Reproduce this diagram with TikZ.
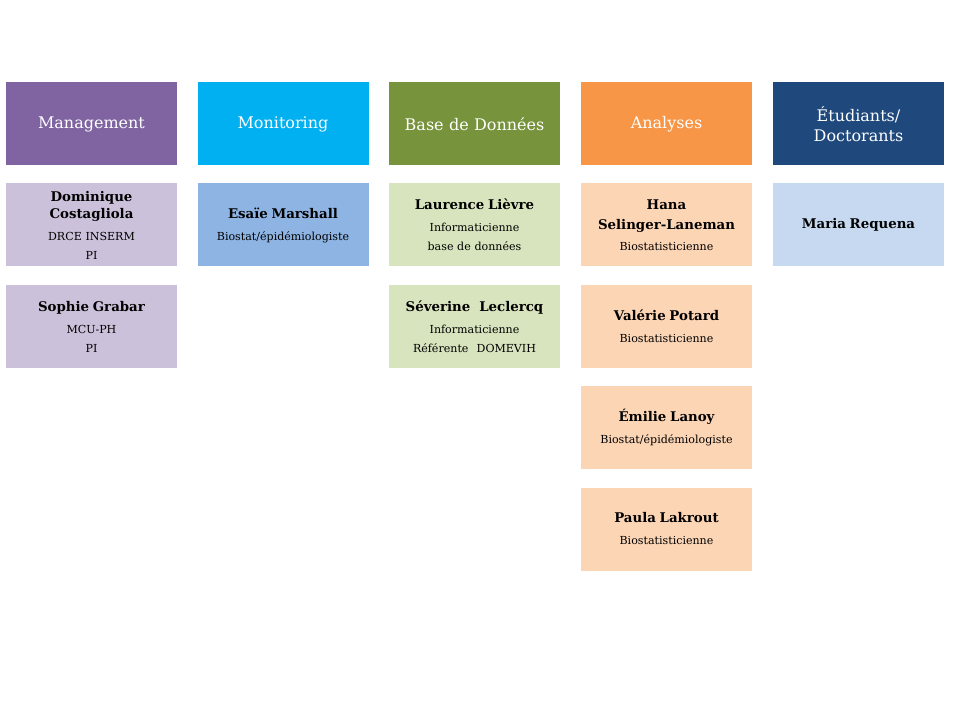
\documentclass[tikz,border=0pt]{standalone}
\usepackage{fontspec}
\setmainfont{DejaVu Serif}
\definecolor{mgmt}{HTML}{8064A2}
\definecolor{mgmtlight}{HTML}{CCC1DA}
\definecolor{monit}{HTML}{00B0F0}
\definecolor{monitlight}{HTML}{8EB4E3}
\definecolor{bdd}{HTML}{77933C}
\definecolor{bddlight}{HTML}{D7E4BD}
\definecolor{anal}{HTML}{F79646}
\definecolor{anallight}{HTML}{FCD5B5}
\definecolor{etud}{HTML}{1F497D}
\definecolor{etudlight}{HTML}{C6D9F1}
\newcommand\nm[1]{{\fontsize{10}{12.75}\selectfont\bfseries #1}}
\begin{document}
\begin{tikzpicture}[x=0.75pt,y=-0.75pt,
	head/.style={minimum width=128.25pt,minimum height=62.25pt,inner sep=0pt,text width=124pt,align=center,text=white,font=\fontsize{12}{15}\selectfont},
	card/.style={head,text=black,font=\fontsize{8.3}{14.25}\selectfont}]
	\useasboundingbox (0,0) rectangle (960,720);
	% en-tetes
	\node[head,fill=mgmt] (hmanag) at (91.5,124) {Management};
	\node[head,fill=monit] (hmonit) at (283,124) {Monitoring};
	\node[head,fill=bdd] (hbdd) at (474.5,124) {Base de Données};
	\node[head,fill=anal] (hanal) at (666.5,124) {Analyses};
	\node[head,fill=etud] (hetud) at (858.5,124) {Étudiants/\\Doctorants};
	% Management
	\node[card,fill=mgmtlight] (costagliola) at (91.5,225) {\nm{Dominique\\[-1.5pt]Costagliola}\\[2.25pt]DRCE INSERM\\PI};
	\node[card,fill=mgmtlight] (grabar) at (91.5,326.5) {\nm{Sophie Grabar}\\[2.25pt]MCU-PH\\PI};
	% Monitoring
	\node[card,fill=monitlight] (marshall) at (283,225) {\nm{Esaïe Marshall}\\[2.25pt]Biostat/épidémiologiste};
	% Base de donnees
	\node[card,fill=bddlight] (lievre) at (474.5,225) {\nm{Laurence Lièvre}\\[2.25pt]Informaticienne\\base de données};
	\node[card,fill=bddlight] (leclercq) at (474.5,326.5) {\nm{Séverine\hspace{0.4em} Leclercq}\\[2.25pt]Informaticienne\\Référente\hspace{0.4em} DOMEVIH};
	% Analyses
	\node[card,fill=anallight] (selinger) at (666.5,225) {\nm{Hana\\[1pt]Selinger-Laneman}\\[1pt]Biostatisticienne};
	\node[card,fill=anallight] (potard) at (666.5,326.5) {\nm{Valérie Potard}\\[2.25pt]Biostatisticienne};
	\node[card,fill=anallight] (lanoy) at (666.5,427.5) {\nm{Émilie Lanoy}\\[2.25pt]Biostat/épidémiologiste};
	\node[card,fill=anallight] (lakrout) at (666.5,529) {\nm{Paula Lakrout}\\[2.25pt]Biostatisticienne};
	% Etudiants
	\node[card,fill=etudlight] (requena) at (858.5,225) {\nm{Maria Requena}};
\end{tikzpicture}
\end{document}
